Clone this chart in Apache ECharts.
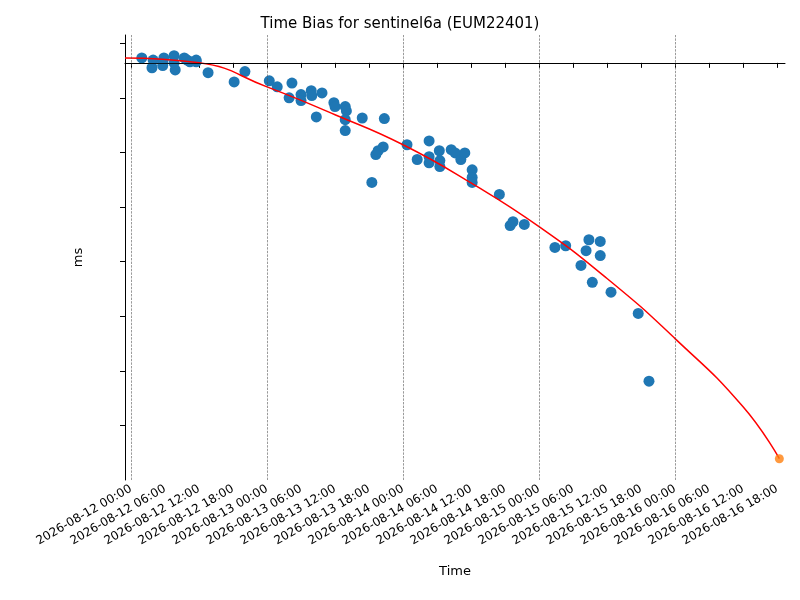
<html><head><script src="https://cdn.jsdelivr.net/npm/echarts@6/dist/echarts.min.js"></script></head>
<body style="margin:0"><div id="c" style="width:800px;height:600px"></div>
<script>
const T0 = Date.UTC(2026,7,12,0,0);
const H = 3600e3;
const obsHours = [1.9,3.7,3.9,5.6,5.6,5.8,7.6,7.8,7.6,9.4,9.9,10.4,11.5,11.5,13.6,18.2,20.1,24.4,25.8,27.9,28.4,30,30,31.8,31.9,32.7,33.7,35.8,36,37.8,38,37.8,37.8,40.8,42.5,43.2,43.6,44.5,44.7,48.7,50.5,52.6,52.6,52.6,54.4,54.5,54.5,56.5,57.2,58.2,58.9,60.2,60.2,60.2,65,66.9,67.4,69.4,74.8,76.7,79.4,80.3,80.8,81.4,82.8,82.8,84.7,89.5,91.4];
const obsMs = [0.09,-0.09,0.05,0.02,-0.05,0.09,0.13,-0.13,0,0.09,0.05,0.02,0.02,0.05,-0.18,-0.35,-0.16,-0.33,-0.44,-0.64,-0.37,-0.58,-0.69,-0.51,-0.6,-0.99,-0.55,-0.73,-0.8,-0.8,-0.88,-1.04,-1.24,-1.01,-2.19,-1.68,-1.61,-1.54,-1.02,-1.5,-1.77,-1.43,-1.72,-1.83,-1.61,-1.79,-1.9,-1.59,-1.65,-1.77,-1.65,-1.96,-2.1,-2.19,-2.41,-2.98,-2.91,-2.96,-3.38,-3.35,-3.71,-3.44,-3.24,-4.02,-3.27,-3.53,-4.2,-4.59,-5.83];
const fitHours = [-1.06,12,24,36,48,60,72,84,96,108,114.4];
const fitMs = [0.09,0.0,-0.44,-0.95,-1.5,-2.2,-3.0,-3.95,-5.05,-6.3,-7.25];
const predHours = [114.4];
const predMs = [-7.25];
const dayLines = [0,24,48,72,96];
const pad = n => String(n).padStart(2,'0');
const fmt = v => { const d = new Date(v); return d.getUTCFullYear()+'-'+pad(d.getUTCMonth()+1)+'-'+pad(d.getUTCDate())+' '+pad(d.getUTCHours())+':'+pad(d.getUTCMinutes()); };
const ts = h => T0 + h*H;
const ch = echarts.init(document.getElementById('c'));
ch.setOption({
  animation:false,
  textStyle:{fontFamily:'DejaVu Sans'},
  title:{text:'Time Bias for sentinel6a (EUM22401)',left:'center',top:12,textStyle:{fontSize:15,fontWeight:'normal',color:'#000'}},
  grid:{left:125,right:15,top:35,bottom:120},
  xAxis:{type:'time',min:ts(-1.06),max:ts(115.4),minInterval:12*H,maxInterval:12*H,interval:12*H,
    name:'Time',nameLocation:'middle',nameGap:85,nameTextStyle:{fontSize:13,color:'#000'},
    axisLine:{lineStyle:{color:'#000'}},axisTick:{show:true,lineStyle:{color:'#000'}},
    axisLabel:{rotate:30,formatter:v=>fmt(v),color:'#000',fontSize:12,hideOverlap:false,showMinLabel:false,showMaxLabel:false},
    splitLine:{show:false}},
  yAxis:{type:'value',min:-7.64,max:0.51,interval:1,
    name:'ms',nameLocation:'middle',nameGap:40,nameTextStyle:{fontSize:13,color:'#000'},
    axisLine:{show:true,lineStyle:{color:'#000'}},axisTick:{show:true,lineStyle:{color:'#000'}},
    axisLabel:{color:'#000',fontSize:12,showMinLabel:false,showMaxLabel:false,formatter:v=>Number.isInteger(Math.round(v*100)/100)?String(Math.round(v)).replace('-','−'):''},
    splitLine:{show:false}},
  series:[
    {type:'scatter',data:obsHours.map((h,i)=>[ts(h),obsMs[i]]),symbolSize:11,itemStyle:{color:'#1f77b4',opacity:1},
      markLine:{silent:true,symbol:'none',label:{show:false},animation:false,
        data:[...dayLines.map(h=>({xAxis:ts(h),lineStyle:{color:'#555',type:'dashed',width:0.6}})),{yAxis:0,lineStyle:{color:'#000',type:'solid',width:0.8}}]}},
    {type:'line',data:fitHours.map((h,i)=>[ts(h),fitMs[i]]),smooth:true,showSymbol:false,lineStyle:{color:'#ff0000',width:1.5},z:3},
    {type:'scatter',data:predHours.map((h,i)=>[ts(h),predMs[i]]),symbolSize:9,itemStyle:{color:'#ff7f0e'},z:4}
  ]
});
</script></body></html>
